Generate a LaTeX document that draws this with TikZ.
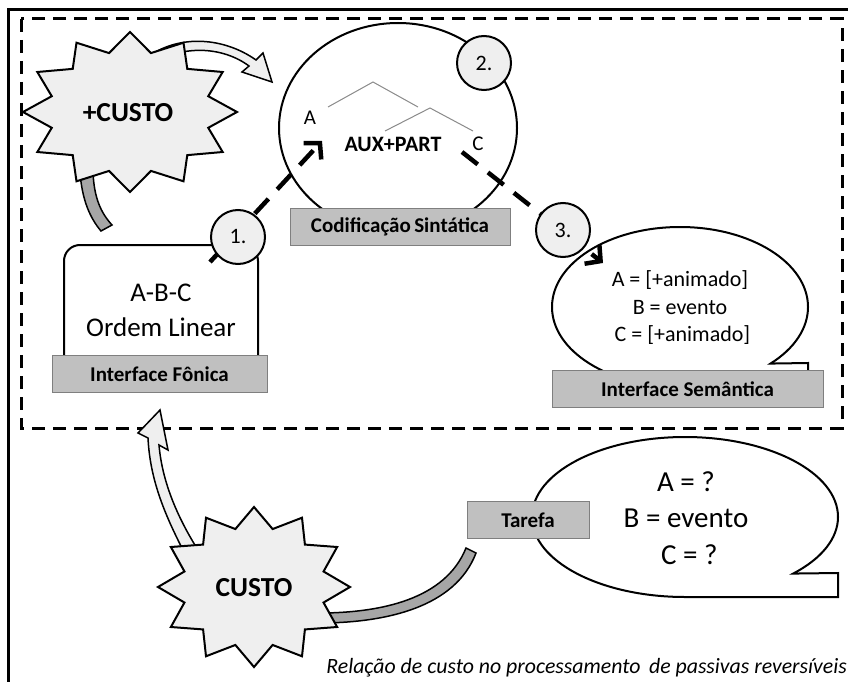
\documentclass[tikz,border=0pt]{standalone}
\usepackage{fontspec}
\setmainfont{Carlito}
\usetikzlibrary{shapes.geometric,arrows.meta,calc}
\definecolor{lightfill}{HTML}{EFEFEF}
\definecolor{boxgray}{HTML}{C0C0C0}
\definecolor{boxedge}{HTML}{7F7F7F}
\definecolor{bandgray}{HTML}{A6A6A6}
\definecolor{treegray}{HTML}{8A8A8A}
\begin{document}
\begin{tikzpicture}[x=1pt,y=-1pt,
  graybox/.style={draw=boxedge, line width=1pt, fill=boxgray, minimum height=37pt, inner sep=0pt,
    font=\fontsize{21}{25}\selectfont\bfseries},
  numcirc/.style={circle, draw=black, line width=2pt, fill=lightfill, minimum size=54pt, inner sep=0pt,
    font=\fontsize{22}{26}\selectfont},
  outl/.style={draw=black, line width=2pt, line join=miter},
  blockarrow/.style={draw=black, line width=1.5pt, fill=lightfill, line join=miter},
  band/.style={draw=black, line width=1.5pt, fill=bandgray},
  dasharrow/.style={line width=4.5pt, dash pattern=on 20pt off 13pt,
    -{Straight Barb[length=11pt,width=24pt]}},
  bigtxt/.style={font=\fontsize{27}{35}\selectfont, align=center, inner sep=0pt},
  midtxt/.style={font=\fontsize{21}{27}\selectfont, align=center, inner sep=0pt},
  startxt/.style={font=\fontsize{27.5}{32}\selectfont\bfseries, inner sep=0pt}
]
\useasboundingbox (0,0) rectangle (848,682);
\fill[white] (0,0) rectangle (848,682);

% outer frame and dashed region
\draw[line width=3pt] (8,690) -- (8,10) -- (860,10);
\draw[line width=3pt, dash pattern=on 13pt off 8pt] (21,19) rectangle (842,428);

% ---------- +CUSTO star and its connectors ----------
\draw[blockarrow] (146,58) .. controls (180,33) and (225,38) .. (256,60)
  -- (263,53) -- (272,82) -- (242,72) -- (249,66)
  .. controls (222,46) and (182,45) .. (152,64) -- cycle;
\draw[band] (80,172) .. controls (82,200) and (90,218) .. (101,231)
  -- (112,225) .. controls (101,213) and (94,198) .. (93,172) -- cycle;
\draw[outl, fill=lightfill] (130,192) \foreach \k in {0,...,11}{
  -- ({130+81*cos(105+30*\k)},{112+61*sin(105+30*\k)})
  -- ({130+107*cos(120+30*\k)},{112+80*sin(120+30*\k)}) } -- cycle;
\node[startxt] (pluscusto) at (128,113) {+CUSTO};

% ---------- Codificação Sintática ----------
\node[ellipse, draw=black, line width=2pt, fill=white, minimum width=238pt, minimum height=210pt, inner sep=0pt]
  (sint) at (398,128) {};
\draw[treegray, line width=1pt] (328,107) -- (373,82) -- (418,107);
\draw[treegray, line width=1pt] (385,131) -- (430,108) -- (473,131);
\node[midtxt] (tA) at (310,118) {A};
\node[midtxt, font=\fontsize{22}{27}\selectfont\bfseries] (taux) at (393,144) {AUX+PART};
\node[midtxt] (tC) at (478,144) {C};
\node[graybox, minimum width=220pt] (cod) at (400,226.5) {Codificação\,Sintática};

% ---------- Interface Fônica ----------
\node[draw=black, line width=2pt, fill=white, rounded corners=16pt, minimum width=194pt, minimum height=130pt,
  bigtxt] (fon) at (161,310) {A-B-C\\Ordem Linear};
\node[graybox, minimum width=215pt] (fonbox) at (159.5,374) {Interface Fônica};

% ---------- Interface Semântica ----------
\draw[outl, fill=white] (680,387) arc[start angle=90, end angle=405, x radius=128, y radius=80]
  -- (808,363) -- (808,387) -- cycle;
\node[midtxt, font=\fontsize{22}{27.5}\selectfont] (semtxt) at (680,308)
  {A = [+animado]\\B = evento\\\ C = [+animado]};
\node[graybox, minimum width=271pt] (sembox) at (687.5,389) {Interface Semântica};

% ---------- dashed steps ----------
\coordinate (d1s) at (210,262);
\coordinate (d1e) at (322,141);
\coordinate (d2s) at (462,152);
\coordinate (d2e) at (603,263);
\draw[dasharrow] (d1s) -- (d1e);
\draw[dasharrow] (d2s) -- (d2e);
\node[numcirc] (n1) at (238,237) {1.};
\node[numcirc] (n2) at (484,63) {2.};
\node[numcirc] (n3) at (563,230) {3.};

% ---------- CUSTO star and task bubble ----------
\draw[blockarrow] (184,552) .. controls (165,515) and (150,480) .. (148,438)
  -- (138,433) -- (160,410) -- (168,450) -- (159,445)
  .. controls (162,480) and (176,515) .. (198,550) -- cycle;
\draw[band] (325,613) .. controls (380,612) and (445,600) .. (466,548)
  -- (476,553) .. controls (455,608) and (385,622) .. (325,623) -- cycle;
\draw[outl, fill=lightfill] (254,667) \foreach \k in {0,...,11}{
  -- ({254+72*cos(105+30*\k)},{587+60*sin(105+30*\k)})
  -- ({254+96*cos(120+30*\k)},{587+80*sin(120+30*\k)}) } -- cycle;
\node[startxt] (custo) at (254,588) {CUSTO};

\draw[outl, fill=white] (685,597) arc[start angle=90, end angle=405, x radius=153, y radius=80]
  -- (838,573) -- (838,597) -- cycle;
\node[bigtxt, font=\fontsize{29}{36.5}\selectfont] (tartxt) at (686,518)
  {A = ?\\B = evento\\\ C = ?};
\node[graybox, minimum width=122pt] (tarefa) at (528,520) {Tarefa};

% ---------- caption ----------
\node[anchor=base east, inner sep=0pt, font=\fontsize{21.8}{25}\selectfont\itshape] (cap) at (847,673)
  {Relação de custo no processamento\, de passivas reversíveis};
\end{tikzpicture}
\end{document}
